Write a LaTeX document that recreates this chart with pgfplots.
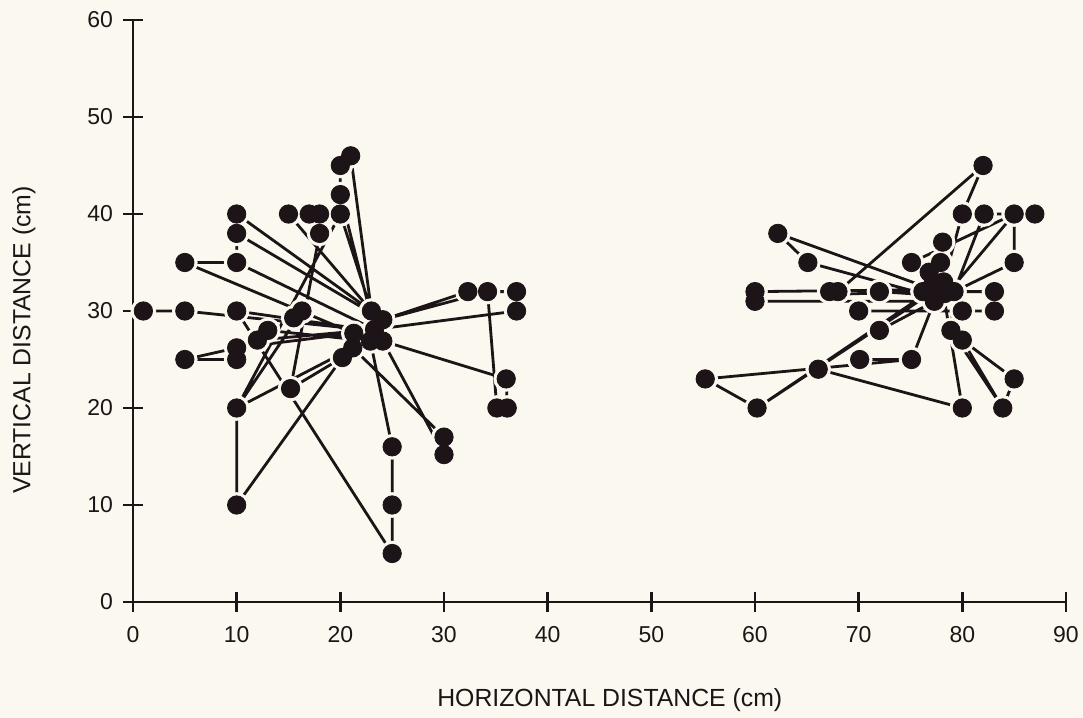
\documentclass[border=0pt]{standalone}
\usepackage{fontspec}
\setmainfont{Liberation Sans}
\usepackage{pgfplots}
\usepackage{pgfplotstable}
\pgfplotsset{compat=1.18}
\definecolor{bg}{HTML}{FBF8EF}
\definecolor{ink}{HTML}{1C1416}

\pgfplotstableread{
x y
1 30
5 30
5 35
5 25
10 40
10 38
10 35
10 30
10 26.2
10 25
10 20
10 10
12 27
13 28
15.5 29.3
16.3 30
15 40
15.2 22
17 40
18 40
18 38
20 45
21 46
20 42
20 40
20.2 25.2
21.2 26.2
21.3 27.7
23 30
24.1 29.1
23.3 28.1
24.1 26.9
22.9 26.9
25 16
25 10
25 5
30 17
30 15.2
32.3 32
34.2 32
37 32
37 30
35.1 20
36.1 20
36 23
82 45
80 40
82.1 40
85 40
87 40
62.2 38
65.1 35
78.1 37.1
75.1 35
85 35
60 32
60 31
67.2 32
68 32
72 32
83.1 32
70 30
80 30
83.1 30
72 28
78.9 28
80 27
70.1 25
75.1 25
66.1 24
55.2 23
60.2 20
80 20
83.9 20
85 23
76.8 34
77.9 35
77.2 33
76.2 32
77.2 32.2
78.2 33
79.2 32
77.3 31
78.3 31.8
}\pts

\pgfplotstableread{
x y
1 30
5 30
nan nan
5 30
23 28
nan nan
10 30
23 28
nan nan
5 35
10 35
nan nan
5 35
21.3 27.7
nan nan
10 35
23.3 28.1
nan nan
10 35
10 38
nan nan
10 38
24.1 29.1
nan nan
10 40
23 30
nan nan
5 25
10 25
nan nan
5 25
10 26.2
nan nan
10 26.2
21.3 27.7
nan nan
10 25
12 27
nan nan
12 27
23.3 28.1
nan nan
13 28
22.9 26.9
nan nan
10 20
10 10
nan nan
10 10
20.2 25.2
nan nan
10 20
21.2 26.2
nan nan
10 20
16.3 30
nan nan
20 40
10 20
nan nan
15.2 22
20.2 25.2
nan nan
15.2 22
18 38
nan nan
10 30
25 5
nan nan
25 5
25 10
nan nan
25 10
25 16
nan nan
25 16
22.9 26.9
nan nan
21.2 26.2
30 17
nan nan
24.1 26.9
30 15.2
nan nan
30 17
30 15.2
nan nan
32.3 32
24.1 29.1
nan nan
34.2 32
24.1 29.1
nan nan
34.2 32
37 32
nan nan
37 30
23.3 28.1
nan nan
34.2 32
35.1 20
nan nan
36 23
36.1 20
nan nan
36 23
24.1 26.9
nan nan
15 40
23 30
nan nan
20 40
23 30
nan nan
20 42
23.3 28.1
nan nan
20 45
20 42
nan nan
21 46
23 30
nan nan
82 45
80 40
nan nan
82 45
68 32
nan nan
80 40
78.2 33
nan nan
82.1 40
79.2 32
nan nan
82.1 40
85 40
nan nan
85 40
85 35
nan nan
85 40
75.1 35
nan nan
85 40
79.5 33
nan nan
85 35
79.2 32
nan nan
83.1 32
79.2 32
nan nan
83.1 30
70 30
nan nan
62.2 38
65.1 35
nan nan
62.2 38
77.2 32.2
nan nan
65.1 35
77.2 31.5
nan nan
60 32
77.2 32.2
nan nan
60 31
77.3 31
nan nan
67.2 31.7
76.2 32
nan nan
72 32
76.2 31.7
nan nan
55.2 23
60.2 20
nan nan
55.2 23
75.1 25
nan nan
60.2 20
77.2 32
nan nan
60.2 20
78.2 33
nan nan
66.1 24
80 20
nan nan
70.1 25
75.1 25
nan nan
72 28
77.3 31
nan nan
75.1 25
77.3 31
nan nan
78.9 28
80 27
nan nan
78.9 28
79.2 32
nan nan
80 27
83.9 20
nan nan
80 27
85 23
nan nan
83.9 20
85 23
nan nan
80 20
78.3 31
nan nan
83.9 20
78.9 28
}\segs

\begin{document}
\begin{tikzpicture}
\fill[bg] (-66.5pt,-58pt) rectangle (475pt,301pt);
\begin{axis}[
  at={(0,0)}, anchor=south west, scale only axis,
  width=466.5pt, height=291pt,
  xmin=0, xmax=90, ymin=0, ymax=60,
  axis x line=bottom, axis y line=left,
  axis line style={-, line width=1.3pt, ink},
  xtick={0,10,...,90}, ytick={0,10,...,60},
  tick align=center, major tick length=10pt,
  tick style={line width=1.3pt, ink},
  /pgf/number format/assume math mode=true,
  ticklabel style={font=\fontsize{11.5}{13}\selectfont, text=ink},
  xticklabel style={anchor=north, yshift=-3.5pt},
  yticklabel style={anchor=east, xshift=-1.5pt},
  xlabel={HORIZONTAL DISTANCE (cm)},
  ylabel={VERTICAL DISTANCE (cm)},
  x label style={at={(axis description cs:0.511,0)}, anchor=center, yshift=-49pt, font=\fontsize{12.4}{14}\selectfont, text=ink},
  y label style={at={(axis description cs:-0.1168,0.45)}, anchor=center, font=\fontsize{12.4}{14}\selectfont, text=ink},
  unbounded coords=jump,
  clip=false,
  axis on top=true,
]
\addplot[ink, line width=1.4pt, no marks] table {\segs};
\addplot[only marks, mark=*, mark size=6.2pt, color=bg] table {\pts};
\addplot[only marks, mark=*, mark size=4.6pt, color=ink] table {\pts};
\end{axis}
\pgfresetboundingbox
\path (-66.5pt,-58pt) rectangle (475pt,301pt);
\end{tikzpicture}
\end{document}
